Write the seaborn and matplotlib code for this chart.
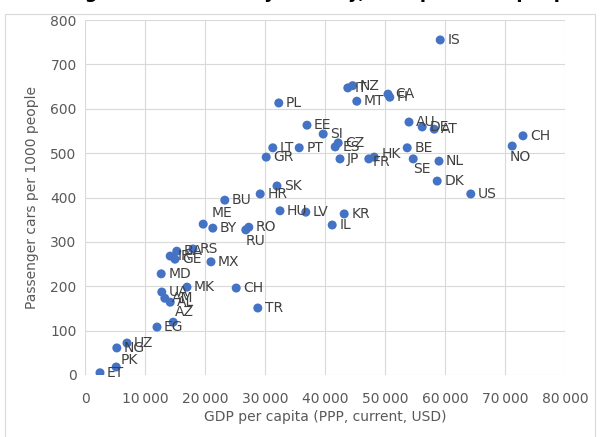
import pandas as pd
import matplotlib.pyplot as plt
import matplotlib.ticker as mticker
from matplotlib.patches import Rectangle
import seaborn as sns

sns.set_theme(style="white")
plt.rcParams['font.family'] = ['DejaVu Sans']

countries = ['IS', 'IT', 'NZ', 'MT', 'FI', 'CA', 'PL', 'EE', 'SI', 'CZ', 'ES',
             'LT', 'PT', 'GR', 'JP', 'FR', 'HK', 'AU', 'DE', 'AT', 'BE', 'SE',
             'NL', 'DK', 'US', 'CH', 'NO', 'SK', 'HR', 'BU', 'HU', 'LV', 'KR',
             'IL', 'ME', 'BY', 'RO', 'RU', 'RS', 'BA', 'IR', 'GE', 'MX', 'MD',
             'MK', 'CH', 'TR', 'UA', 'AM', 'AL', 'AZ', 'EG', 'UZ', 'NG', 'PK', 'ET']
gdp = [59200, 43800, 44600, 45300, 50800, 50500, 32300, 37000, 39700, 42200, 41700,
       31300, 35700, 30200, 42500, 47300, 48200, 54000, 56200, 58200, 53700, 54700,
       59000, 58700, 64300, 73000, 71200, 32000, 29200, 23300, 32500, 36800, 43200,
       41200, 19700, 21300, 27300, 26800, 18000, 15300, 14200, 15000, 21000, 12700,
       17000, 25200, 28800, 12800, 13300, 14200, 14700, 12000, 7000, 5300, 5200, 2500]
cars = [755, 647, 652, 617, 626, 633, 613, 563, 543, 523, 514,
        512, 512, 491, 487, 487, 491, 570, 559, 554, 512, 487,
        482, 437, 408, 539, 516, 426, 408, 394, 370, 367, 363,
        338, 340, 331, 333, 327, 284, 279, 268, 261, 255, 228,
        198, 196, 151, 187, 173, 164, 119, 108, 72, 61, 18, 5]

df = pd.DataFrame({'country': countries, 'gdp': gdp, 'cars': cars})

# label offsets (points) for labels that were moved off the default right side
moved = {'NO': (-2, -8), 'RU': (0, -8), 'SE': (0, -7), 'AZ': (1, 7),
         'PK': (3, 5), 'ME': (6, 8), 'HK': (5, 2), 'FR': (3, -2)}

fig = plt.figure(figsize=(6, 4.37), dpi=100)
ax = fig.add_axes([85 / 600, 62 / 437, 480 / 600, 355 / 437])

sns.scatterplot(data=df, x='gdp', y='cars', color='#4472C4', s=42,
                edgecolor='none', ax=ax, zorder=3)

for name, xv, yv in zip(df['country'], df['gdp'], df['cars']):
    dx, dy = moved.get(name, (5, 0))
    ax.annotate(name, (xv, yv), xytext=(dx, dy), textcoords='offset points',
                ha='left', va='center', fontsize=10, color='#404040', zorder=4)

ax.set_xlim(0, 80000)
ax.set_ylim(0, 800)
ax.xaxis.set_major_locator(mticker.MultipleLocator(10000))
ax.yaxis.set_major_locator(mticker.MultipleLocator(100))
ax.xaxis.set_major_formatter(mticker.FuncFormatter(
    lambda v, p: f'{int(v):,}'.replace(',', '\u2009')))
ax.grid(True, color='#d9d9d9', linewidth=0.8)
ax.set_axisbelow(True)
for s in ax.spines.values():
    s.set_visible(False)
ax.tick_params(axis='x', colors='#595959', labelsize=10, length=0, pad=12)
ax.tick_params(axis='y', colors='#595959', labelsize=10, length=0, pad=6)
ax.set_xlabel('GDP per capita (PPP, current, USD)', fontsize=10, color='#595959', labelpad=3)
ax.set_ylabel('Passenger cars per 1000 people', fontsize=10, color='#595959', labelpad=8)

fig.patches.append(Rectangle((5 / 600, -0.01), 590 / 600, 1 - 14 / 437 + 0.01,
                             transform=fig.transFigure, fill=False,
                             edgecolor='#d9d9d9', linewidth=0.8))
fig.text(0.5, 1 + 2 / 437, 'Passenger cars vs GDP by country, cars per 1000 people',
         ha='center', va='baseline', fontsize=13, fontweight='bold', color='#000000')

fig.savefig('out.png', dpi=100)
